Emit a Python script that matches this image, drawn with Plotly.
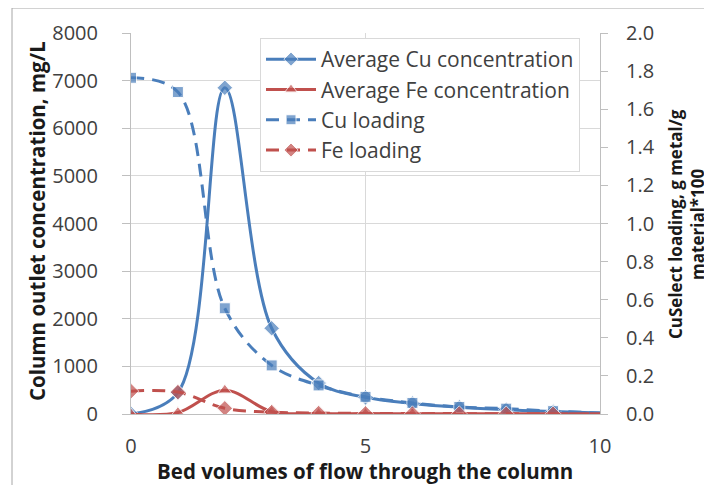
import plotly.graph_objects as go

bed_volumes = [0, 1, 2, 3, 4, 5, 6, 7, 8, 9, 10]
cu_conc = [0, 450, 6850, 1800, 650, 350, 220, 140, 90, 50, 20]
fe_conc = [0, 30, 500, 50, 10, 8, 5, 5, 5, 5, 5]
cu_loading = [1.765, 1.69, 0.555, 0.255, 0.15, 0.09, 0.058, 0.037, 0.028, 0.015, 0.005]
fe_loading = [0.12, 0.115, 0.03, 0.01, 0.005, 0.003, 0.002, 0.002, 0.001, 0.001, 0.001]

x_title = "Bed volumes of flow through the column"
y_title = "Column outlet concentration, mg/L"
y2_title = "CuSelect loading, g metal/g<br>material*100"

BLUE = "#4A7EBB"
RED = "#C0504D"
FONT = "Open Sans"
TXT = "#404040"
TITLE = "#1a1a1a"

def msize(s):
    return [s] * (len(bed_volumes) - 1) + [0]

fig = go.Figure()
fig.add_trace(go.Scatter(x=bed_volumes, y=cu_conc, name="Average Cu concentration",
                         mode="lines+markers", line=dict(color=BLUE, width=3, shape="spline", smoothing=1),
                         marker=dict(symbol="diamond", size=msize(12), color=BLUE), yaxis="y"))
fig.add_trace(go.Scatter(x=bed_volumes, y=fe_conc, name="Average Fe concentration",
                         mode="lines+markers", line=dict(color=RED, width=3, shape="spline", smoothing=1),
                         marker=dict(symbol="triangle-up", size=msize(12), color=RED), yaxis="y"))
fig.add_trace(go.Scatter(x=bed_volumes, y=cu_loading, name="Cu loading",
                         mode="lines+markers", line=dict(color=BLUE, width=3, dash="13px,8px", shape="spline", smoothing=1),
                         marker=dict(symbol="square", size=msize(11), color=BLUE), yaxis="y2"))
fig.add_trace(go.Scatter(x=bed_volumes, y=fe_loading, name="Fe loading",
                         mode="lines+markers", line=dict(color=RED, width=3, dash="13px,8px", shape="spline", smoothing=1),
                         marker=dict(symbol="diamond", size=msize(12), color=RED), yaxis="y2"))

# page has an 8px body margin: figure pixel = screen pixel - 8
OFF = 8
W, H = 712 - OFF, 485 - OFF
X0, X1, Y0, Y1 = 131 - OFF, 600 - OFF, 33 - OFF, 414 - OFF   # plot area in figure px
L, R, T, B = X0, W - X1, Y0, H - Y1
pw, ph = X1 - X0, Y1 - Y0

def px(xs):
    return (xs - OFF - X0) / pw

def py(ys):
    return (Y1 - (ys - OFF)) / ph

fig.update_layout(
    width=W, height=H,
    margin=dict(l=L, r=R, t=T, b=B, autoexpand=False),
    paper_bgcolor="white", plot_bgcolor="white",
    font=dict(family=FONT, size=20, color=TXT),
    showlegend=True,
    legend=dict(x=px(260), y=py(38), xanchor="left", yanchor="top",
                bgcolor="white", bordercolor="#D9D9D9", borderwidth=1,
                font=dict(size=21, color=TXT), tracegroupgap=0, itemwidth=50),
    xaxis=dict(range=[0, 10], tickvals=[0, 5, 10], showgrid=True, gridcolor="#D9D9D9",
               showline=True, linecolor="#BFBFBF", zeroline=False, ticks="", automargin=False,
               ticklabelstandoff=14, tickfont=dict(size=20, color=TXT)),
    yaxis=dict(range=[0, 8000], dtick=1000, showgrid=True, gridcolor="#D9D9D9",
               showline=True, linecolor="#BFBFBF", zeroline=False, ticks="outside", automargin=False,
               ticklen=8, tickcolor="#BFBFBF", ticklabelstandoff=20, tickfont=dict(size=20, color=TXT)),
    yaxis2=dict(range=[0, 2.0], dtick=0.2, tickformat=".1f", overlaying="y", side="right",
                showgrid=False, showline=True, linecolor="#BFBFBF", zeroline=False, automargin=False,
                ticks="outside", ticklen=7, tickcolor="#BFBFBF", ticklabelstandoff=14,
                tickfont=dict(size=20, color=TXT)),
)

fig.add_annotation(text="<b>" + x_title + "</b>", xref="paper", yref="paper",
                   x=px(365), y=py(471), xanchor="center", yanchor="middle", showarrow=False,
                   font=dict(size=20.5, color=TITLE))
fig.add_annotation(text="<b>" + y_title + "</b>", xref="paper", yref="paper",
                   x=px(37), y=py(221), xanchor="center", yanchor="middle", showarrow=False,
                   textangle=-90, font=dict(size=20.5, color=TITLE))
fig.add_annotation(text="<b>" + y2_title + "</b>", xref="paper", yref="paper",
                   x=px(687), y=py(224), xanchor="center", yanchor="middle", showarrow=False,
                   textangle=-90, font=dict(size=17, color=TITLE))

fig.add_shape(type="rect", xref="paper", yref="paper",
              x0=px(12), x1=px(800), y0=py(600), y1=py(8),
              line=dict(color="#A6A6A6", width=1), fillcolor="rgba(0,0,0,0)", layer="below")

fig.write_html("out.html")
